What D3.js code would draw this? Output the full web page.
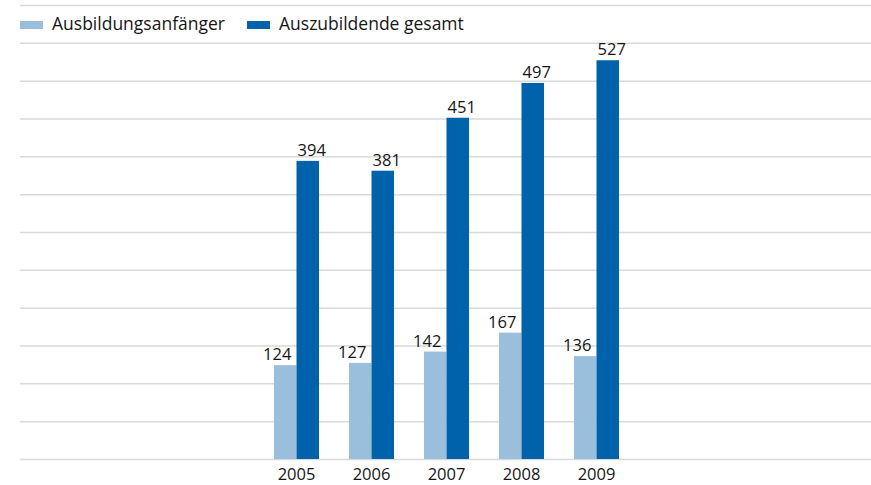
<!DOCTYPE html>
<html>
<head>
<meta charset="utf-8">
<script src="https://cdn.jsdelivr.net/npm/d3@7"></script>
<style>
  body { margin: 0; background: #fff; }
  svg text { font-family: "Open Sans", sans-serif; fill: #161616; }
</style>
</head>
<body>
<div id="chart-area"></div>
<script>
// data
const years = ["2005", "2006", "2007", "2008", "2009"]
const anfaenger = [124, 127, 142, 167, 136]
const gesamt = [394, 381, 451, 497, 527]
const seriesNames = ["Ausbildungsanfänger", "Auszubildende gesamt"]
const colors = ["#9abfdc", "#0062aa"]

const width = 871, height = 485
const svg = d3.select("#chart-area").append("svg")
    .attr("width", width)
    .attr("height", height)

// scales
const y = d3.scaleLinear().domain([0, 600]).range([459, 5])
const x = d3.scaleBand().domain(years).range([259, 634])
    .paddingInner(0.4).paddingOuter(0.2)
const xs = d3.scaleBand().domain([0, 1]).range([0, x.bandwidth()])

// gridlines
const grid = svg.append("g")
    .attr("transform", "translate(20,0)")
    .call(d3.axisLeft(y).tickValues(d3.range(0, 601, 50)).tickSize(-(width - 20)).tickFormat(""))
grid.select(".domain").remove()
grid.selectAll(".tick line").attr("stroke", "#d9d9d9").attr("stroke-width", 1.5)

// x axis labels
const xAxis = svg.append("g")
    .attr("transform", "translate(0,459)")
    .call(d3.axisBottom(x).tickSize(0).tickPadding(9))
xAxis.select(".domain").remove()
xAxis.selectAll("text")
    .attr("font-size", 16.5)
    .style("font-family", "'Open Sans', sans-serif")
    .attr("fill", "#161616")

// bars
const rows = years.map((yr, i) => ({ year: yr, vals: [anfaenger[i], gesamt[i]] }))
const groups = svg.selectAll(".grp").data(rows).enter().append("g")
    .attr("transform", d => "translate(" + x(d.year) + ",0)")

groups.selectAll("rect").data(d => d.vals).enter().append("rect")
    .attr("x", (d, i) => xs(i))
    .attr("width", xs.bandwidth())
    .attr("y", d => y(d))
    .attr("height", d => y(0) - y(d))
    .attr("fill", (d, i) => colors[i])

const offsets = [-8, 4]
groups.selectAll(".val").data(d => d.vals).enter().append("text")
    .attr("class", "val")
    .attr("x", (d, i) => xs(i) + xs.bandwidth() / 2 + offsets[i])
    .attr("y", d => y(d) - 5)
    .attr("text-anchor", "middle")
    .attr("font-size", 16.5)
    .text(d => d)

// legend
const legend = svg.append("g").attr("transform", "translate(20,25)")
const lx = [0, 227]
seriesNames.forEach((name, i) => {
  legend.append("rect")
      .attr("x", lx[i]).attr("y", -4)
      .attr("width", 23).attr("height", 8)
      .attr("fill", colors[i])
  legend.append("text")
      .attr("x", lx[i] + 32).attr("y", 5)
      .attr("font-size", 17.5)
      .text(name)
})
</script>
</body>
</html>
